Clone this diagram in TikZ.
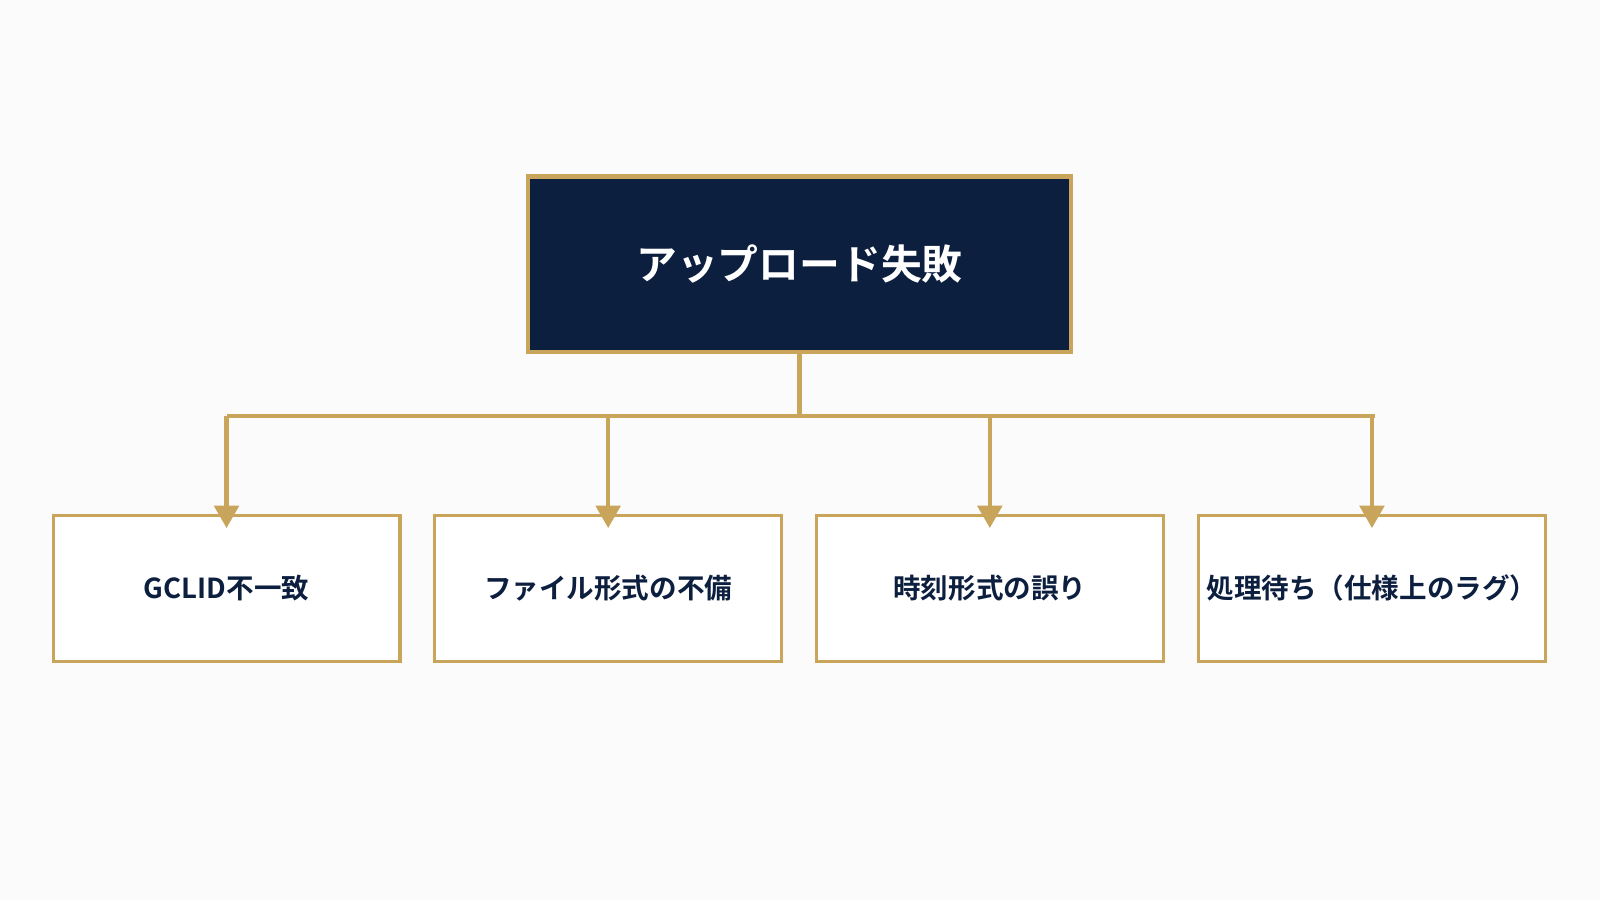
\documentclass[tikz,border=0pt]{standalone}
\usepackage{fontspec}
\newfontfamily\jpfont{Noto Sans CJK JP}[BoldFont={* Bold}]
\usetikzlibrary{positioning,arrows.meta}
\definecolor{navy}{HTML}{0D1F3F}
\definecolor{gold}{HTML}{C9A55C}
\begin{document}
\begin{tikzpicture}[x=1pt,y=-1pt,
  rootbox/.style={draw=gold, line width=4pt, fill=navy, text=white, minimum width=533pt, minimum height=172pt, font=\jpfont\bfseries\fontsize{40}{48}\selectfont},
  leafbox/.style={draw=gold, line width=3pt, fill=white, text=navy, minimum width=340pt, minimum height=143pt, font=\jpfont\bfseries\fontsize{27}{32}\selectfont},
  link/.style={draw=gold, line width=4pt},
  tip/.style={link, -{Triangle[width=24pt,length=22pt]}}]
\fill[white!97!gray] (0,0) rectangle (1568,882);
\node[rootbox] (root) at (783.5,259) {アップロード失敗};
\node[leafbox] (gclid) at (222,576.5) {GCLID不一致};
\node[leafbox] (file) at (596,576.5) {ファイル形式の不備};
\node[leafbox] (time) at (970,576.5) {時刻形式の誤り};
\node[leafbox] (wait) at (1344.5,576.5) {処理待ち（仕様上のラグ）};
\coordinate (hub) at (783.5,408);
\draw[link] (root.south) -- (hub);
\draw[link] (222,408) -- (1347,408);
\foreach \n in {gclid,file,time,wait}
  \draw[tip] (\n.north |- hub) -- ([yshift=-14pt]\n.north);
\end{tikzpicture}
\end{document}
